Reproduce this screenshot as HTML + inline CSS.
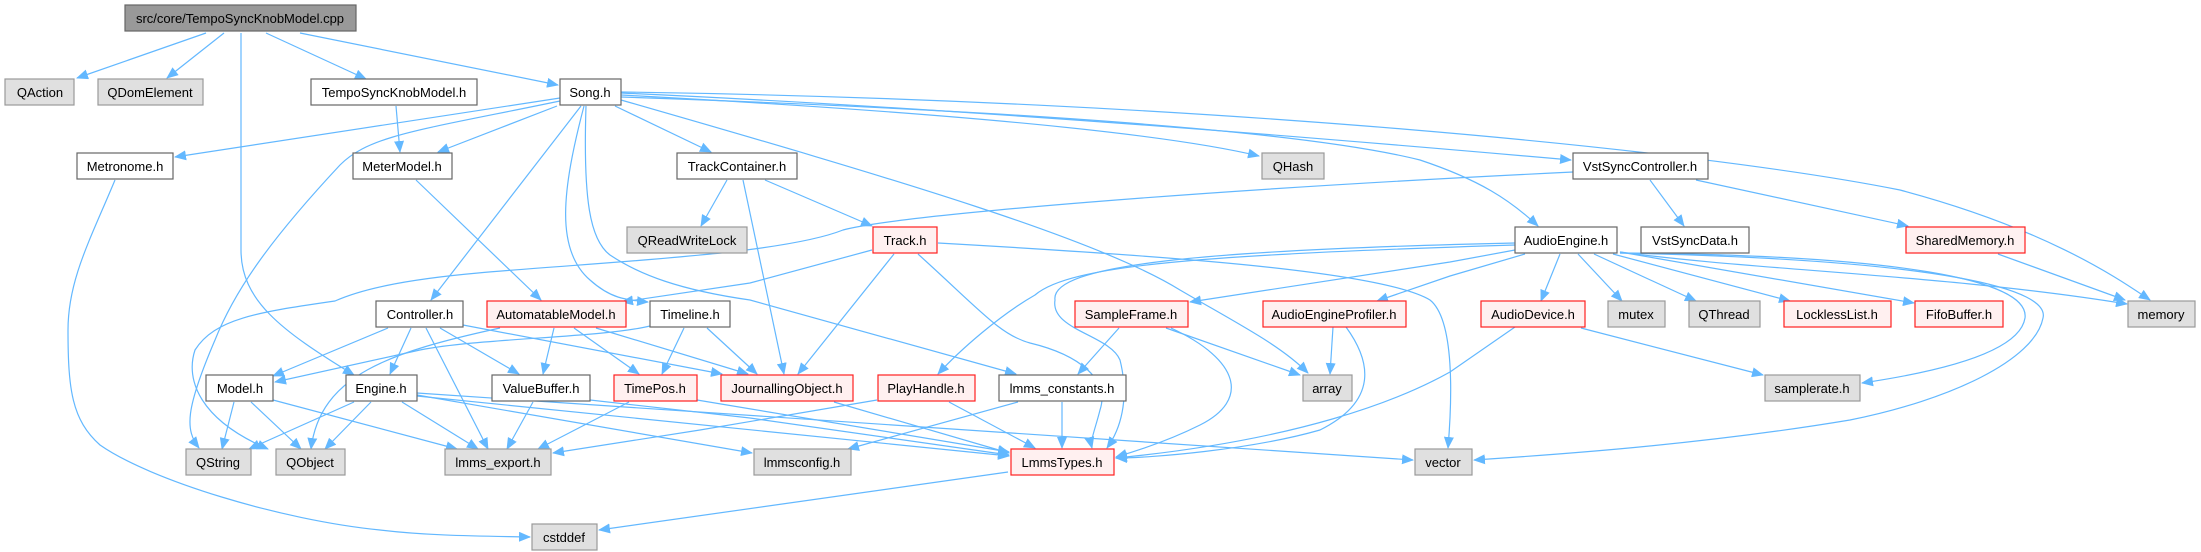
<!DOCTYPE html>
<html><head><meta charset="utf-8"><style>
html,body{margin:0;padding:0;background:#fff;}
svg{display:block;}
text{font-family:"Liberation Sans",Arial,sans-serif;font-size:13px;fill:#000;text-anchor:middle;}
.e{fill:none;stroke:#63b8ff;stroke-width:1.2;marker-end:url(#a);}
.w{fill:#fff;stroke:#666;stroke-width:1.2;}
.g{fill:#e0e0e0;stroke:#999;stroke-width:1.2;}
.r{fill:#fff0f0;stroke:#ff2020;stroke-width:1.2;}
.k{fill:#999;stroke:#666;stroke-width:1.2;}
</style></head><body>
<svg width="2201" height="552" viewBox="0 0 2201 552" xmlns="http://www.w3.org/2000/svg">
<defs><marker id="a" markerUnits="userSpaceOnUse" markerWidth="12" markerHeight="10" refX="11" refY="5" orient="auto"><path d="M0,0 L12,5 L0,10 z" fill="#63b8ff"/></marker></defs>
<g>
<path class="e" d="M206,33 L77,78"/>
<path class="e" d="M224,33 L167,78"/>
<path class="e" d="M241,33 L241,250 C241,300 280,330 354,375"/>
<path class="e" d="M266,33 L366,79"/>
<path class="e" d="M300,33 L558,85"/>
<path class="e" d="M396,106 L400,152"/>
<path class="e" d="M560,98 L175,157"/>
<path class="e" d="M557,106 L438,152"/>
<path class="e" d="M560,101 C420,130 370,135 340,165 C270,240 235,290 215,340 C185,410 185,430 199,448"/>
<path class="e" d="M581,106 L431,300"/>
<path class="e" d="M584,106 C562,190 555,250 590,280 C610,298 625,300 648,302"/>
<path class="e" d="M586,106 C583,200 590,240 610,255 C640,275 680,290 750,300 L1016,374"/>
<path class="e" d="M615,106 L711,152"/>
<path class="e" d="M621,100 C900,180 1100,240 1180,290 C1240,325 1280,345 1308,373"/>
<path class="e" d="M621,95 C900,110 1150,130 1259,156"/>
<path class="e" d="M621,93 C1000,110 1400,145 1571,160"/>
<path class="e" d="M621,92 C1200,100 1700,150 1900,190 C2050,230 2120,280 2150,300"/>
<path class="e" d="M621,97 C1000,110 1300,130 1420,160 C1480,180 1510,200 1538,226"/>
<path class="e" d="M416,180 L541,300"/>
<path class="e" d="M115,180 C90,240 68,280 68,330 C68,390 72,420 100,445 C150,480 280,520 380,530 C430,536 480,536 530,537"/>
<path class="e" d="M727,180 L701,226"/>
<path class="e" d="M743,180 L784,374"/>
<path class="e" d="M765,180 L872,226"/>
<path class="e" d="M872,250 L750,283 L622,302"/>
<path class="e" d="M894,254 L798,374"/>
<path class="e" d="M918,254 C980,310 1000,335 1030,343 C1080,355 1110,380 1100,410 C1095,430 1090,440 1092,448"/>
<path class="e" d="M938,243 C1150,255 1380,270 1430,300 C1455,320 1452,400 1448,448"/>
<path class="e" d="M1573,172 C1200,190 900,215 843,230 C780,255 600,262 478,273 C400,280 360,290 335,301 C260,312 215,318 195,350 C185,380 200,420 268,449"/>
<path class="e" d="M1650,180 L1684,226"/>
<path class="e" d="M1696,180 L1908,226"/>
<path class="e" d="M1998,254 L2125,300"/>
<path class="e" d="M1560,254 L1541,301"/>
<path class="e" d="M1578,254 L1622,301"/>
<path class="e" d="M1594,254 L1696,301"/>
<path class="e" d="M1613,254 L1790,301"/>
<path class="e" d="M1620,252 L1914,303"/>
<path class="e" d="M1620,252 C1750,270 1950,275 2127,304"/>
<path class="e" d="M1620,253 C1900,255 2030,280 2025,318 C2020,350 1950,370 1862,383"/>
<path class="e" d="M1620,253 C1950,260 2050,290 2043,318 C2035,360 1950,400 1850,420 C1700,445 1550,455 1474,460"/>
<path class="e" d="M1515,250 L1450,262 L1190,302"/>
<path class="e" d="M1525,254 L1450,276 L1377,301"/>
<path class="e" d="M1515,245 C1200,255 1070,265 1035,295 C1000,315 960,350 938,374"/>
<path class="e" d="M1515,243 C1200,250 1050,265 1055,300 C1050,330 1110,335 1120,360 C1130,400 1120,430 1107,448"/>
<path class="e" d="M1515,327 L1450,372 C1400,400 1300,440 1116,458"/>
<path class="e" d="M1333,327 L1330,374"/>
<path class="e" d="M1346,327 C1370,360 1380,400 1320,430 C1250,450 1150,458 1116,458"/>
<path class="e" d="M1119,328 L1078,374"/>
<path class="e" d="M1166,328 L1300,375"/>
<path class="e" d="M1171,328 C1240,360 1250,400 1200,425 C1170,440 1140,450 1116,457"/>
<path class="e" d="M1581,328 L1763,375"/>
<path class="e" d="M1018,402 L848,449"/>
<path class="e" d="M1062,402 L1062,448"/>
<path class="e" d="M877,400 L700,430 L553,453"/>
<path class="e" d="M949,402 L1035,448"/>
<path class="e" d="M834,402 L1009,453"/>
<path class="e" d="M417,395 L752,453"/>
<path class="e" d="M417,396 L1009,456"/>
<path class="e" d="M417,393 L1413,460"/>
<path class="e" d="M354,402 L249,449"/>
<path class="e" d="M371,402 L325,449"/>
<path class="e" d="M402,402 L478,449"/>
<path class="e" d="M234,402 L222,449"/>
<path class="e" d="M251,402 L301,449"/>
<path class="e" d="M273,400 L457,449"/>
<path class="e" d="M388,328 L273,376"/>
<path class="e" d="M411,328 L390,374"/>
<path class="e" d="M440,328 L519,374"/>
<path class="e" d="M426,328 L488,449"/>
<path class="e" d="M463,325 L722,374"/>
<path class="e" d="M554,328 L543,374"/>
<path class="e" d="M574,328 L639,374"/>
<path class="e" d="M596,328 L748,374"/>
<path class="e" d="M500,328 C390,352 320,375 311,449"/>
<path class="e" d="M684,328 L662,374"/>
<path class="e" d="M707,328 L757,374"/>
<path class="e" d="M650,326 C600,338 480,338 420,350 L275,382"/>
<path class="e" d="M533,402 L507,449"/>
<path class="e" d="M590,400 L750,418 L1009,455"/>
<path class="e" d="M629,402 L538,449"/>
<path class="e" d="M697,400 L1009,452"/>
<path class="e" d="M1008,472 L599,530"/>
</g>
<g>
<rect class="k" x="125" y="5" width="231" height="26"/><text x="240" y="23">src/core/TempoSyncKnobModel.cpp</text>
<rect class="g" x="5" y="79" width="69" height="26"/><text x="40" y="97">QAction</text>
<rect class="g" x="98" y="79" width="105" height="26"/><text x="150" y="97">QDomElement</text>
<rect class="w" x="311" y="79" width="166" height="26"/><text x="394" y="97">TempoSyncKnobModel.h</text>
<rect class="w" x="560" y="79" width="61" height="26"/><text x="590" y="97">Song.h</text>
<rect class="w" x="77" y="153" width="96" height="26"/><text x="125" y="171">Metronome.h</text>
<rect class="w" x="353" y="153" width="99" height="26"/><text x="402" y="171">MeterModel.h</text>
<rect class="w" x="677" y="153" width="120" height="26"/><text x="737" y="171">TrackContainer.h</text>
<rect class="g" x="1262" y="153" width="62" height="26"/><text x="1293" y="171">QHash</text>
<rect class="w" x="1573" y="153" width="135" height="26"/><text x="1640" y="171">VstSyncController.h</text>
<rect class="g" x="627" y="227" width="120" height="26"/><text x="687" y="245">QReadWriteLock</text>
<rect class="r" x="873" y="227" width="64" height="26"/><text x="905" y="245">Track.h</text>
<rect class="w" x="1515" y="227" width="102" height="26"/><text x="1566" y="245">AudioEngine.h</text>
<rect class="w" x="1641" y="227" width="108" height="26"/><text x="1695" y="245">VstSyncData.h</text>
<rect class="r" x="1906" y="227" width="119" height="26"/><text x="1965" y="245">SharedMemory.h</text>
<rect class="w" x="376" y="301" width="87" height="26"/><text x="420" y="319">Controller.h</text>
<rect class="r" x="487" y="301" width="139" height="26"/><text x="556" y="319">AutomatableModel.h</text>
<rect class="w" x="650" y="301" width="80" height="26"/><text x="690" y="319">Timeline.h</text>
<rect class="r" x="1075" y="301" width="113" height="26"/><text x="1131" y="319">SampleFrame.h</text>
<rect class="r" x="1263" y="301" width="143" height="26"/><text x="1334" y="319">AudioEngineProfiler.h</text>
<rect class="r" x="1481" y="301" width="104" height="26"/><text x="1533" y="319">AudioDevice.h</text>
<rect class="g" x="1608" y="301" width="57" height="26"/><text x="1636" y="319">mutex</text>
<rect class="g" x="1689" y="301" width="71" height="26"/><text x="1724" y="319">QThread</text>
<rect class="r" x="1784" y="301" width="107" height="26"/><text x="1837" y="319">LocklessList.h</text>
<rect class="r" x="1915" y="301" width="88" height="26"/><text x="1959" y="319">FifoBuffer.h</text>
<rect class="g" x="2128" y="301" width="67" height="26"/><text x="2161" y="319">memory</text>
<rect class="w" x="206" y="375" width="67" height="26"/><text x="240" y="393">Model.h</text>
<rect class="w" x="346" y="375" width="71" height="26"/><text x="381" y="393">Engine.h</text>
<rect class="w" x="492" y="375" width="98" height="26"/><text x="541" y="393">ValueBuffer.h</text>
<rect class="r" x="614" y="375" width="83" height="26"/><text x="655" y="393">TimePos.h</text>
<rect class="r" x="721" y="375" width="132" height="26"/><text x="787" y="393">JournallingObject.h</text>
<rect class="r" x="878" y="375" width="97" height="26"/><text x="926" y="393">PlayHandle.h</text>
<rect class="w" x="999" y="375" width="127" height="26"/><text x="1062" y="393">lmms_constants.h</text>
<rect class="g" x="1303" y="375" width="49" height="26"/><text x="1327" y="393">array</text>
<rect class="g" x="1765" y="375" width="95" height="26"/><text x="1812" y="393">samplerate.h</text>
<rect class="g" x="186" y="449" width="65" height="26"/><text x="218" y="467">QString</text>
<rect class="g" x="276" y="449" width="69" height="26"/><text x="310" y="467">QObject</text>
<rect class="g" x="445" y="449" width="106" height="26"/><text x="498" y="467">lmms_export.h</text>
<rect class="g" x="754" y="449" width="97" height="26"/><text x="802" y="467">lmmsconfig.h</text>
<rect class="r" x="1011" y="449" width="103" height="26"/><text x="1062" y="467">LmmsTypes.h</text>
<rect class="g" x="1415" y="449" width="57" height="26"/><text x="1443" y="467">vector</text>
<rect class="g" x="532" y="524" width="65" height="26"/><text x="564" y="542">cstddef</text>
</g>
</svg>
</body></html>
